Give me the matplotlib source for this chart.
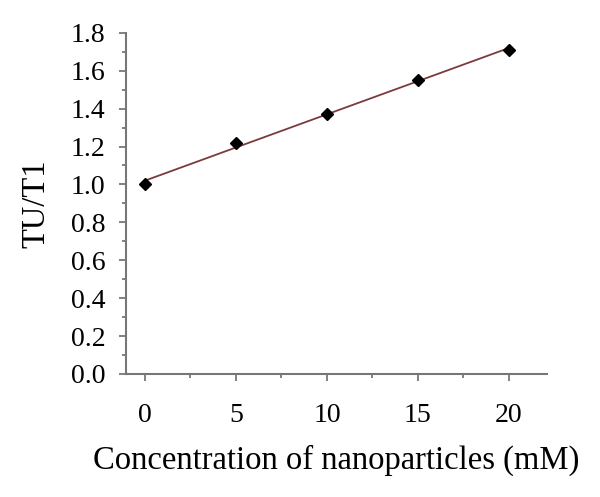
import numpy as np
import matplotlib.pyplot as plt
from matplotlib.ticker import MultipleLocator

plt.rcParams['font.family'] = ['Liberation Serif', 'DejaVu Serif']

# concentration (mM) vs TU/T1
conc = [0, 5, 10, 15, 20]
ratio = [1.00, 1.22, 1.37, 1.55, 1.71]

fig = plt.figure(figsize=(6, 4.97), dpi=100)
ax = fig.add_axes([0.21, 0.2475, 0.702, 0.6865])

# linear trend line through the points
k, b = np.polyfit(conc, ratio, 1)
xs = np.array([conc[0], conc[-1]])
ax.plot(xs, k * xs + b, color="#7a3b3b", lw=1.3)
ax.plot(conc, ratio, "D", color="black", ms=6)

ax.set_xlim(-1.04, 22.1)
ax.set_ylim(0, 1.8)
ax.xaxis.set_major_locator(MultipleLocator(5))
ax.xaxis.set_minor_locator(MultipleLocator(2.5))
ax.yaxis.set_major_locator(MultipleLocator(0.2))
ax.yaxis.set_minor_locator(MultipleLocator(0.1))
ax.yaxis.set_major_formatter(plt.FuncFormatter(lambda v, p: f"{v:.1f}"))

for s in ["top", "right"]:
    ax.spines[s].set_visible(False)
for s in ["left", "bottom"]:
    ax.spines[s].set_color("#777777")
    ax.spines[s].set_linewidth(1.5)
ax.tick_params(which="both", direction="out", color="#777777", width=1.3)
ax.tick_params(which="major", length=5, labelsize=20)
ax.tick_params(which="minor", length=3)
ax.tick_params(axis="y", pad=10)
ax.tick_params(axis="x", pad=16)

ax.set_xlabel("Concentration of nanoparticles (mM)", fontsize=23.5, labelpad=12)
ax.set_ylabel("TU/T1", fontsize=23.5, labelpad=14)

plt.savefig("out.png", dpi=100)
